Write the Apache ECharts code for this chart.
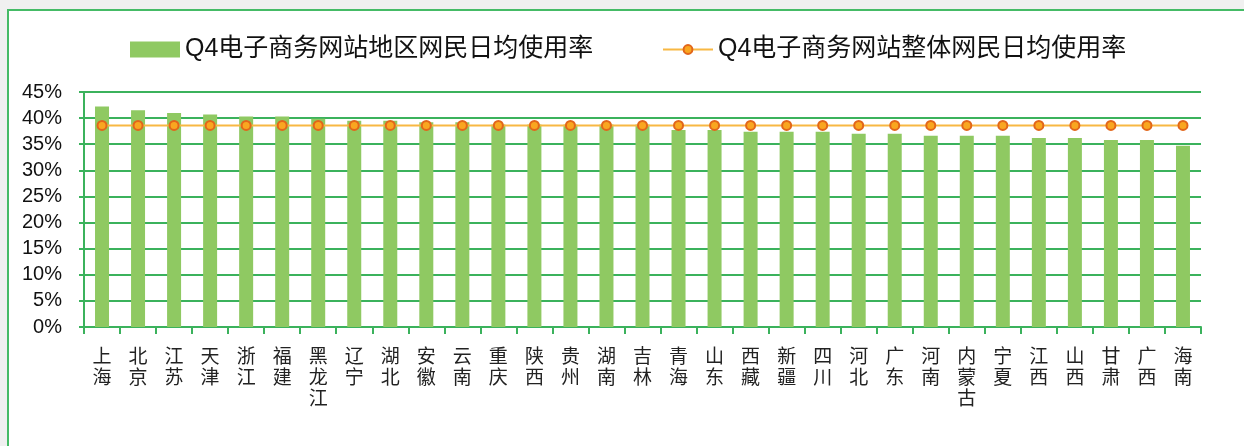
<!DOCTYPE html>
<html>
<head>
<meta charset="utf-8">
<script src="https://cdn.jsdelivr.net/npm/echarts@6/dist/echarts.min.js"></script>
<style>
  html, body { margin: 0; padding: 0; background: #f0f0f0; }
  #chart { width: 1244px; height: 446px; }
</style>
</head>
<body>
<div id="chart"></div>
<script>
// 省份
const regions = ['上海', '北京', '江苏', '天津', '浙江', '福建', '黑龙江', '辽宁', '湖北', '安徽',
    '云南', '重庆', '陕西', '贵州', '湖南', '吉林', '青海', '山东', '西藏', '新疆',
    '四川', '河北', '广东', '河南', '内蒙古', '宁夏', '江西', '山西', '甘肃', '广西', '海南'];

// 地区网民日均使用率 (%)
const regionRate = [42.2, 41.5, 41.0, 40.7, 40.3, 40.3, 39.9, 39.5, 39.5, 39.2,
    39.2, 38.8, 38.8, 38.8, 38.8, 38.8, 37.7, 37.7, 37.4, 37.4,
    37.4, 37.0, 37.0, 36.6, 36.6, 36.6, 36.2, 36.2, 35.8, 35.8, 34.7];

// 整体网民日均使用率 (%)
const overallRate = [38.6, 38.6, 38.6, 38.6, 38.6, 38.6, 38.6, 38.6, 38.6, 38.6,
    38.6, 38.6, 38.6, 38.6, 38.6, 38.6, 38.6, 38.6, 38.6, 38.6,
    38.6, 38.6, 38.6, 38.6, 38.6, 38.6, 38.6, 38.6, 38.6, 38.6, 38.6];

const barName = 'Q4电子商务网站地区网民日均使用率';
const lineName = 'Q4电子商务网站整体网民日均使用率';

const green = '#3bb25c';
const cjkFont = '"Liberation Sans", "Noto Sans CJK SC", sans-serif';

const getOption = () => {
    return {
        backgroundColor: '#f0f0f0',
        animation: false,
        graphic: [
            {
                type: 'rect',
                z: -10,
                shape: { x: 8, y: 10, width: 1300, height: 500 },
                style: { fill: '#ffffff', stroke: '#45bb66', lineWidth: 2 }
            }
        ],
        legend: [
            {
                data: [{ name: barName, icon: 'rect' }],
                left: 125,
                top: 32,
                itemWidth: 50,
                itemHeight: 16,
                textStyle: { color: '#111', fontFamily: cjkFont, fontSize: 25 }
            },
            {
                data: [lineName],
                left: 657,
                top: 32,
                itemWidth: 50,
                itemHeight: 11,
                textStyle: { color: '#111', fontFamily: cjkFont, fontSize: 25 }
            }
        ],
        grid: {
            left: 84,
            right: 43,
            top: 92,
            bottom: 119
        },
        xAxis: {
            type: 'category',
            data: regions,
            axisLine: { lineStyle: { color: green, width: 2 } },
            axisTick: { show: true, length: 7, lineStyle: { color: green, width: 2 } },
            axisLabel: {
                interval: 0,
                margin: 18,
                color: '#222',
                fontFamily: '"Noto Sans CJK SC", sans-serif',
                fontSize: 19,
                lineHeight: 21,
                formatter: (v) => v.split('').join('\n')
            }
        },
        yAxis: {
            type: 'value',
            min: 0,
            max: 45,
            interval: 5,
            axisLine: { show: true, lineStyle: { color: green, width: 2 } },
            axisTick: { show: true, length: 5, lineStyle: { color: green, width: 2 } },
            splitLine: { lineStyle: { color: green, width: 2 } },
            axisLabel: {
                margin: 22,
                color: '#111',
                fontFamily: '"Liberation Sans", Arial, sans-serif',
                fontSize: 20,
                formatter: '{value}%'
            }
        },
        series: [
            {
                name: barName,
                type: 'bar',
                data: regionRate,
                barWidth: 14,
                itemStyle: { color: '#8fc962' }
            },
            {
                name: lineName,
                type: 'line',
                data: overallRate,
                symbol: 'circle',
                symbolSize: 9,
                z: 5,
                lineStyle: { color: '#f8b843', width: 2 },
                itemStyle: { color: '#f9a620', borderColor: '#e2661a', borderWidth: 2 }
            }
        ]
    };
};

const initChart = () => {
    const chart = echarts.init(document.getElementById('chart'));
    chart.setOption(getOption());
};

window.addEventListener('load', () => {
    initChart();
});
</script>
</body>
</html>
